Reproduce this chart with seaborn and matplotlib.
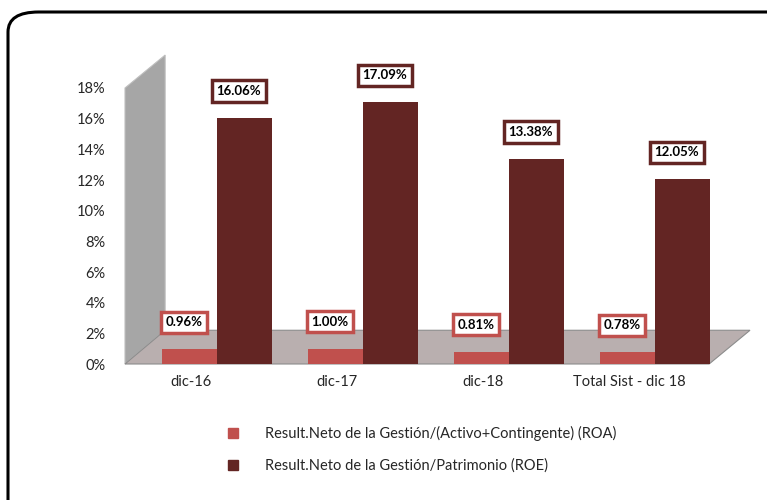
import matplotlib
matplotlib.use("Agg")
import matplotlib.pyplot as plt
import matplotlib.transforms as mtransforms
import seaborn as sns
import pandas as pd
from matplotlib.patches import FancyBboxPatch, Polygon
from matplotlib.lines import Line2D

categories = ["dic-16", "dic-17", "dic-18", "Total Sist - dic 18"]
roa = [0.96, 1.00, 0.81, 0.78]
roe = [16.06, 17.09, 13.38, 12.05]
series_names = ["Result.Neto de la Gestión/(Activo+Contingente) (ROA)",
                "Result.Neto de la Gestión/Patrimonio (ROE)"]
yticks = [0, 2, 4, 6, 8, 10, 12, 14, 16, 18]

c_roa = "#C0504D"
c_roe = "#632523"

sns.set_theme(style="white")
plt.rcParams["font.family"] = ["Lato", "DejaVu Sans"]

df = pd.DataFrame({
    "cat": categories * 2,
    "val": roa + roe,
    "serie": [series_names[0]] * 4 + [series_names[1]] * 4,
})

fig = plt.figure(figsize=(7.67, 5.0), dpi=100)
ax = fig.add_axes([125 / 767, 1 - 364 / 500, 625 / 767, 276 / 500])

# rounded outer frame
frame = FancyBboxPatch((8 / 767, -0.1), 1.2, (500 - 12) / 500 + 0.1,
                       boxstyle="round,pad=0,rounding_size=0.04",
                       transform=fig.transFigure, facecolor="none",
                       edgecolor="black", linewidth=2.2, clip_on=False)
fig.patches.append(frame)

# back wall and floor (decoration)
wall = Polygon([(-0.63, 0), (-0.63, 18), (-0.355, 20.15), (-0.355, 2.2)],
               closed=True, facecolor="#A6A6A6", edgecolor="#BFBFBF",
               lw=0.8, clip_on=False, zorder=0)
ax.add_patch(wall)
floor = Polygon([(-0.63, 0), (-0.355, 2.2), (3.65, 2.2), (3.37, 0)],
                closed=True, facecolor="#B9AFAF", edgecolor="#8C8C8C",
                lw=0.8, clip_on=False, zorder=0)
ax.add_patch(floor)

sns.barplot(data=df, x="cat", y="val", hue="serie",
            palette=[c_roa, c_roe], width=0.75, ax=ax,
            legend=False, saturation=1, zorder=2, linewidth=0)

ax.set_xlim(-0.63, 3.65)
ax.set_ylim(0, 18)
ax.set_yticks(yticks)
ax.set_yticklabels([f"{t}%" for t in yticks], fontsize=10.5)
ax.tick_params(axis="y", pad=14, length=0)
ax.tick_params(axis="x", pad=8, length=0, labelsize=10.5)
ax.set_xlabel("")
ax.set_ylabel("")
for s in ax.spines.values():
    s.set_visible(False)
ax.set_facecolor("none")

shift = mtransforms.ScaledTranslation(-26 / 100, 0, fig.dpi_scale_trans)
for lab in ax.get_xticklabels():
    lab.set_transform(lab.get_transform() + shift)

for cont, col in zip(ax.containers, [c_roa, c_roe]):
    for bar in cont:
        h = bar.get_height()
        ax.annotate(f"{h:.2f}%", (bar.get_x() + bar.get_width() / 2, h),
                    xytext=(-4, 15), textcoords="offset points",
                    ha="center", va="bottom", fontsize=9.5, fontweight="bold",
                    color="black", zorder=5,
                    bbox=dict(boxstyle="square,pad=0.35", facecolor="white",
                              edgecolor=col, linewidth=2.5))

handles = [Line2D([], [], marker="s", linestyle="none", markersize=7,
                  markerfacecolor=c, markeredgecolor=c) for c in (c_roa, c_roe)]
fig.legend(handles, series_names, loc="upper left",
           bbox_to_anchor=(205 / 767, 1 - 413 / 500), frameon=False,
           fontsize=10.5, labelspacing=1.2, handletextpad=1.2)

fig.savefig("out.png", dpi=100)
